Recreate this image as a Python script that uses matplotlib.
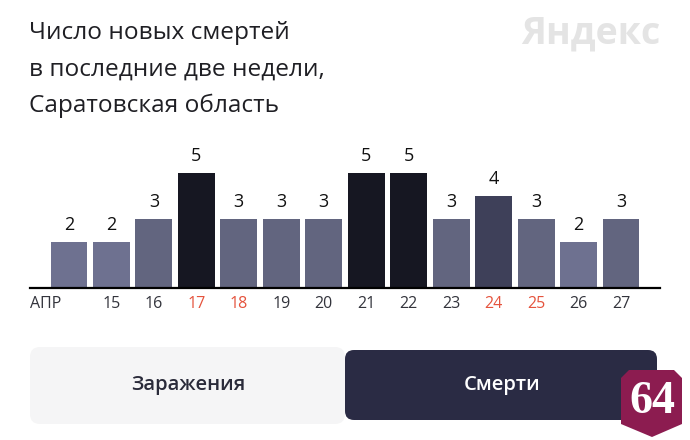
import matplotlib
matplotlib.use('Agg')
import matplotlib.pyplot as plt
from matplotlib.patches import FancyBboxPatch, Polygon

# data
days = ['АПР', '15', '16', '17', '18', '19', '20', '21', '22', '23', '24', '25', '26', '27']
deaths = [2, 2, 3, 5, 3, 3, 3, 5, 5, 3, 4, 3, 2, 3]
weekend = [False, False, False, True, True, False, False, False, False, False, True, True, False, False]

title_lines = ['Число новых смертей', 'в последние две недели,', 'Саратовская область']

# bar shade by value
shade = {2: '#6e7190', 3: '#62657f', 4: '#3e4059', 5: '#161722'}

plt.rcParams['font.family'] = ['Open Sans', 'DejaVu Sans']

fig = plt.figure(figsize=(6.9, 4.4), dpi=100)
fig.patch.set_facecolor('white')

# background layer in pixel coords for the title, logo and buttons
bg = fig.add_axes([0, 0, 1, 1])
bg.set_xlim(0, 690)
bg.set_ylim(440, 0)
bg.axis('off')

for i, line in enumerate(title_lines):
    bg.text(29, 39 + i * 36.5, line, fontsize=17.6, color='#1f1f24', va='baseline', ha='left')

bg.text(660, 44, 'Яндекс', fontsize=27, fontweight='bold', color='#e4e4e4',
        ha='right', va='baseline')

left_btn = FancyBboxPatch((30, 347), 315, 77, boxstyle='round,pad=0,rounding_size=10',
                          fc='#f5f5f6', ec='none')
right_btn = FancyBboxPatch((345, 350), 312, 70, boxstyle='round,pad=0,rounding_size=9',
                           fc='#2a2b44', ec='none')
bg.add_patch(left_btn)
bg.add_patch(right_btn)
bg.text(188, 385, 'Заражения', fontsize=14.5, color='#2a2b3a', ha='center', va='center',
        fontweight='semibold')
bg.text(502, 385, 'Смерти', fontsize=14.5, color='white', ha='center', va='center',
        fontweight='semibold')

badge = Polygon([(629, 370), (674, 370), (682, 378), (682, 424), (652, 437), (621, 424), (621, 378)],
                closed=True, fc='#8c1c50', ec='none')
bg.add_patch(badge)
bg.text(652, 402, '64', fontsize=33, fontweight='bold', color='white', ha='center', va='center',
        family=['Liberation Serif', 'DejaVu Serif'])

# bar chart
ax = fig.add_axes([30 / 690, 152 / 440, 630 / 690, 138 / 440])
ax.patch.set_alpha(0)
x = list(range(len(days)))
ax.bar(x, deaths, width=0.87, color=[shade[v] for v in deaths])
for xi, v in zip(x, deaths):
    ax.annotate(str(v), (xi, v), xytext=(0, 6), textcoords='offset points',
                ha='center', va='bottom', fontsize=13, color='#111111')

ax.set_xlim(-0.918, 13.918)
ax.set_ylim(0, 6)
ax.set_yticks([])
for s in ['top', 'left', 'right']:
    ax.spines[s].set_visible(False)
ax.spines['bottom'].set_linewidth(1.6)
ax.spines['bottom'].set_color('#000000')

ax.set_xticks(x[1:])
ax.set_xticklabels(days[1:], fontsize=11.5)
ax.tick_params(axis='x', length=0, pad=6)
for lbl, hol in zip(ax.get_xticklabels(), weekend[1:]):
    lbl.set_color('#e5533d' if hol else '#33343c')
ax.text(0, -6 / 72 * 100 / 138, days[0], transform=ax.transAxes, fontsize=11.5,
        color='#33343c', ha='left', va='top')

fig.savefig('out.png', dpi=100)
